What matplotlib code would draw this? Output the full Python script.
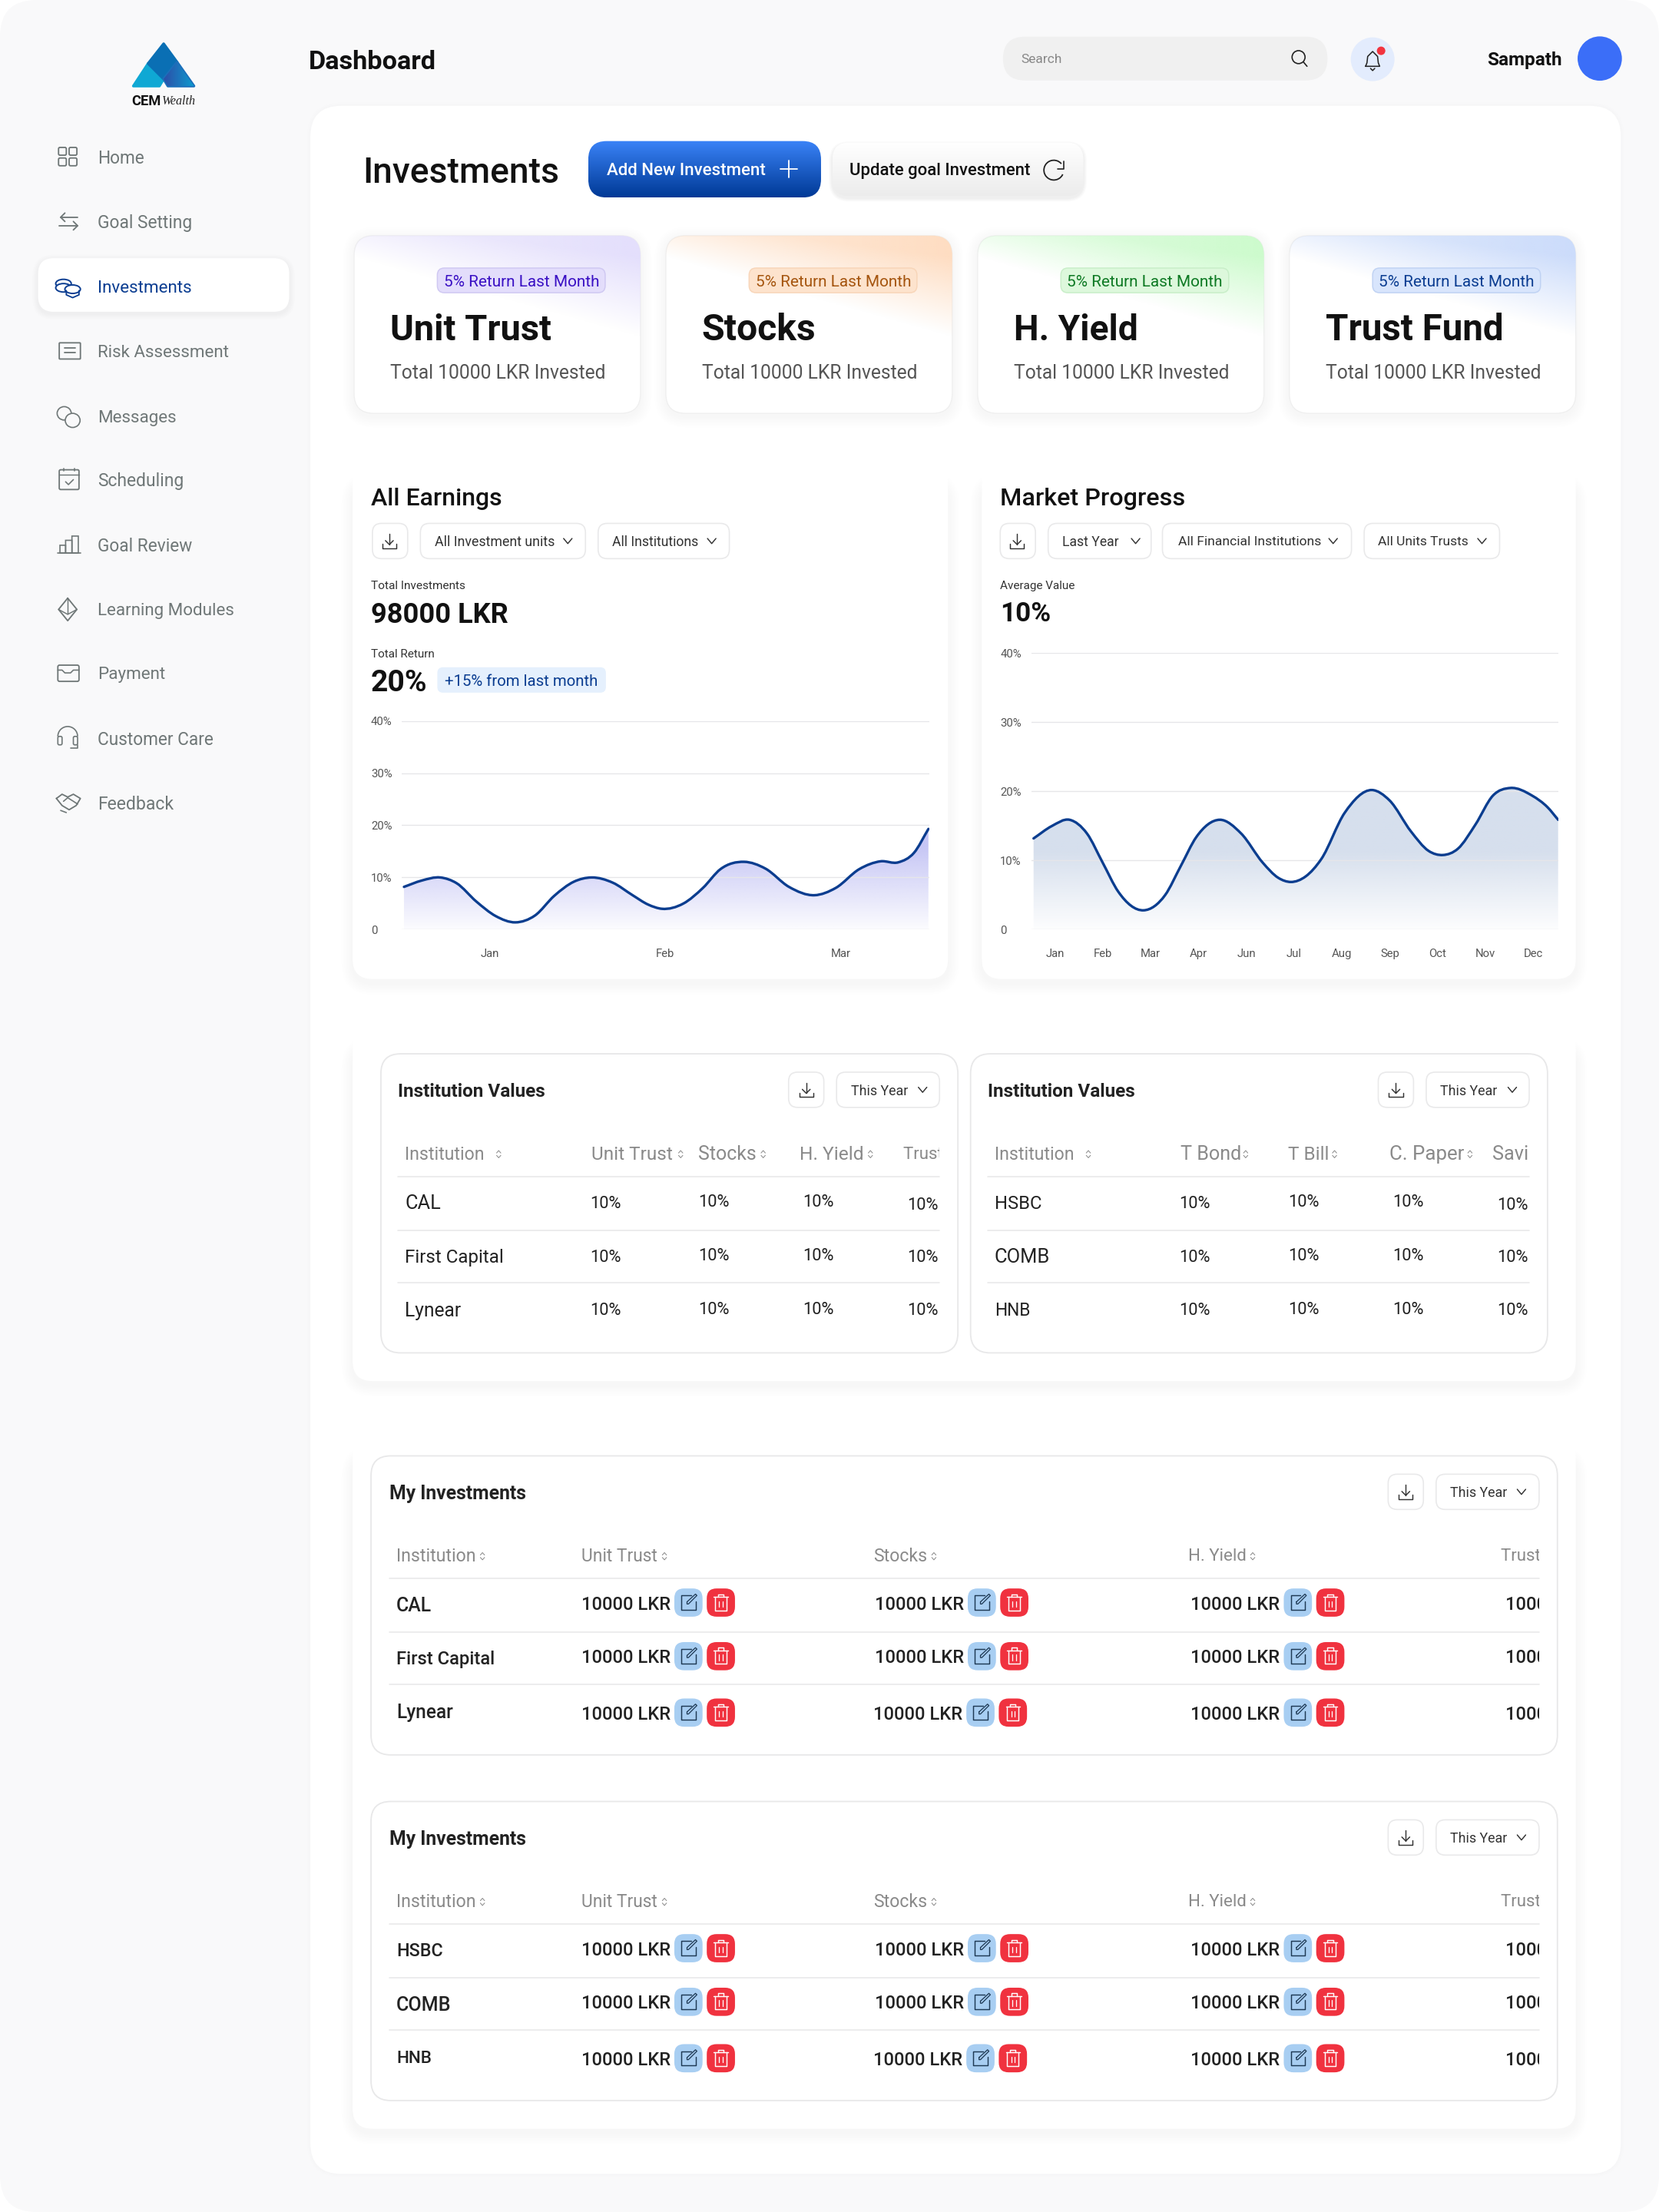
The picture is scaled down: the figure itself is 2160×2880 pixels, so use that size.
import itertools
import numpy as np
import matplotlib
matplotlib.use("Agg")
import matplotlib.pyplot as plt
from matplotlib.patches import FancyBboxPatch, PathPatch, Polygon, Circle, Ellipse, Arc, Rectangle
from matplotlib.path import Path
from matplotlib.transforms import Bbox, TransformedBbox
from matplotlib.colors import to_rgb

# ---------- data ----------
nav_items = ["Home", "Goal Setting", "Investments", "Risk Assessment", "Messages", "Scheduling",
             "Goal Review", "Learning Modules", "Payment", "Customer Care", "Feedback"]
card_titles = ["Unit Trust", "Stocks", "H. Yield", "Trust Fund"]
earn_labels = ["Jan", "Feb", "Mar"]
earn_x = [-0.49, -0.39, -0.283, -0.19, -0.078, 0.033, 0.145, 0.256, 0.367, 0.479, 0.579, 0.70, 0.813, 0.902,
          0.98, 1.102, 1.214, 1.314, 1.448, 1.57, 1.704, 1.849, 1.971, 2.105, 2.227, 2.327, 2.416, 2.499]
earn_y = [8.2, 9.4, 10.0, 8.9, 5.4, 2.6, 1.4, 2.7, 6.5, 9.2, 10.0, 9.0, 6.6, 4.8,
          4.0, 5.0, 8.0, 11.6, 13.0, 11.7, 8.2, 6.6, 8.0, 11.6, 13.1, 12.9, 14.7, 19.3]
market_labels = ["Jan", "Feb", "Mar", "Apr", "Jun", "Jul", "Aug", "Sep", "Oct", "Nov", "Dec"]
market_x = [-0.449, -0.065, 0.302, 0.669, 0.996, 1.322, 1.853, 2.302, 2.629, 2.955, 3.445, 3.894, 4.343, 4.669,
            4.931, 5.241, 5.567, 6.057, 6.629, 6.996, 7.445, 7.812, 8.114, 8.424, 8.792, 9.159, 9.527, 9.976,
            10.302, 10.522]
market_y = [13.2, 15.0, 15.9, 13.9, 9.7, 5.5, 2.8, 5.0, 9.2, 13.4, 15.9, 13.9, 9.7, 7.5,
            6.9, 7.7, 10.2, 16.9, 20.2, 18.7, 14.2, 11.4, 10.8, 11.7, 15.2, 19.4, 20.5, 19.4, 17.7, 15.9]
y_ticks = [0, 10, 20, 30, 40]
y_tick_labels = ["0", "10%", "20%", "30%", "40%"]
inst_left = ["CAL", "First Capital", "Lynear"]
inst_right = ["HSBC", "COMB", "HNB"]
cols_left = ["Unit Trust", "Stocks", "H. Yield", "Trust Fund"]
cols_right = ["T Bond", "T Bill", "C. Paper", "Savings"]
pct_value = "10%"
lkr_value = "10000 LKR"

# ---------- canvas ----------
S = 2160 / 1176
FONT = ["Roboto", "DejaVu Sans"]
fig = plt.figure(figsize=(21.6, 28.8), dpi=100, facecolor="white")
ax = fig.add_axes([0, 0, 1, 1])
ax.set_xlim(0, 1176); ax.set_ylim(1568, 0); ax.axis("off"); ax.set_autoscale_on(False)
rend = fig.canvas.get_renderer()
plt.rcParams["font.family"] = FONT
Z = itertools.count(1)
PX = S * 0.72


def T(x, y, s, w=None, px=11, c="#111111", fw="normal", ha="left", fam=None, style="normal", clip=None):
    t = ax.text(x, y, s, fontsize=px * PX, color=c, fontweight=fw, ha=ha, va="center_baseline", zorder=next(Z),
                family=fam or FONT, style=style)
    if w is not None:
        t.set_fontsize(10)
        cur = t.get_window_extent(rend).width
        t.set_fontsize(10 * w * S / cur)
    if clip is not None:
        bb = Bbox([[clip[0], clip[1]], [clip[2], clip[3]]])
        t.set_clip_box(TransformedBbox(bb, ax.transData))
        t.set_clip_on(True)
    return t


def box(x0, y0, x1, y1, r, fc="white", ec="none", lw=0.0, alpha=None):
    p = FancyBboxPatch((x0, y0), x1 - x0, y1 - y0, boxstyle=f"round,pad=0,rounding_size={r}",
                       fc=fc, ec=ec, lw=lw * 1.32, alpha=alpha, zorder=next(Z))
    ax.add_patch(p)
    return p


def shadow(x0, y0, x1, y1, r, dy=2, n=8, step=1.0, a=0.012):
    for i in range(n, 0, -1):
        e = i * step
        box(x0 - e, y0 - e + dy, x1 + e, y1 + e + dy, r + e, fc="black", alpha=a)


def L(xs, ys, c="#6F7777", lw=1.0):
    ax.plot(xs, ys, color=c, lw=lw * 1.32, solid_capstyle="round", solid_joinstyle="round", zorder=next(Z))


def grad(x0, y0, x1, y1, arr, clip_patch):
    im = ax.imshow(arr, extent=(x0, x1, y1, y0), aspect="auto", interpolation="bilinear", zorder=next(Z))
    im.set_clip_path(clip_patch)
    return im


def vgrad(c0, c1, n=64):
    a, b = np.array(to_rgb(c0)), np.array(to_rgb(c1))
    t = np.linspace(0, 1, n)[:, None, None]
    return a[None, None, :] * (1 - t) + b[None, None, :] * t


def chevron(cx, cy, s=3.0, c="#333333"):
    L([cx - s, cx, cx + s], [cy - s * 0.6, cy + s * 0.6, cy - s * 0.6], c, 0.8)


def download(cx, cy, c="#333333"):
    L([cx, cx], [cy - 5, cy + 2.5], c, 0.8)
    L([cx - 2.8, cx, cx + 2.8], [cy - 0.3, cy + 2.5, cy - 0.3], c, 0.8)
    L([cx - 5, cx - 5, cx + 5, cx + 5], [cy + 2, cy + 5, cy + 5, cy + 2], c, 0.8)


def sort_icon(x, y):
    L([x - 1.5, x, x + 1.5], [y - 0.7, y - 2.4, y - 0.7], "#8A8A8A", 0.55)
    L([x - 1.5, x, x + 1.5], [y + 1.0, y + 2.7, y + 1.0], "#8A8A8A", 0.55)


def dropdown(x0, x1, y0, y1, label, tx0, tx1, chev):
    box(x0, y0, x1, y1, 6.5, ec="#E9E9EA", lw=0.9)
    T(tx0, (y0 + y1) / 2, label, w=tx1 - tx0, c="#333333")
    chevron(chev, (y0 + y1) / 2)


# ---------- page ----------
box(0, 0, 1176, 1568, 26, fc="#F9F9FA")
shadow(220, 75, 1149, 1541, 22, dy=0, n=3, step=0.8, a=0.005)
box(220, 75, 1149, 1541, 22, fc="white")

# logo
tri = Polygon([(105, 45), (94.5, 61), (113, 61), (116, 56)], closed=True, fc="#0FA8D4", ec="#0FA8D4", lw=2.5,
              joinstyle="round", zorder=next(Z)); ax.add_patch(tri)
top = Polygon([(116, 31), (105, 45), (116, 56), (125.5, 44)], closed=True, fc="#0A6FB4", ec="#0A6FB4", lw=2.5,
              joinstyle="round", zorder=next(Z)); ax.add_patch(top)
right = Polygon([(125.5, 44), (116, 56), (119, 61), (137.5, 61)], closed=True, fc="none", ec="none", zorder=next(Z))
ax.add_patch(right)
right_edge = Polygon([(125.5, 44), (116, 56), (119, 61), (137.5, 61)], closed=True, fc="#1B6FBB", ec="#1B6FBB", lw=2.5,
                     joinstyle="round", zorder=next(Z)); ax.add_patch(right_edge)
arr = np.linspace(0, 1, 64)[None, :, None]
grad(116, 42, 139, 63, np.array(to_rgb("#2C4FA8"))[None, None, :] * (1 - arr) + np.array(to_rgb("#0BA0D2"))[None, None, :] * arr, right)
T(93, 71, "CEM", w=21, fw="bold", c="#111111")
T(115, 71, "Wealth", w=24, fam=["Liberation Serif"], style="italic", c="#222222")

# header
T(219, 42, "Dashboard", w=91, fw="bold")
box(711, 26, 941, 57, 15.5, fc="#F0F0F0")
T(724, 41.5, "Search", w=29, c="#888888")
ax.add_patch(Circle((920.5, 40.5), 4.6, fc="none", ec="#222222", lw=1.2, zorder=next(Z)))
L([924, 926.5], [44, 47], "#222222", 0.9)
ax.add_patch(Circle((973, 42), 15.5, fc="#E3ECFD", ec="none", zorder=next(Z)))
L([968, 969, 969.5, 973, 976.5, 977, 978, 968], [47, 44.5, 40, 36.5, 40, 44.5, 47, 47], "#222222", 0.85)
L([971.5, 973, 974.5], [48.5, 50, 48.5], "#222222", 0.85)
ax.add_patch(Circle((979, 36), 3, fc="#F2343F", ec="none", zorder=next(Z)))
T(1054, 41.5, "Sampath", w=53, fw="bold")
ax.add_patch(Circle((1134, 41.5), 15.7, fc="#3B6EF8", ec="none", zorder=next(Z)))

# sidebar
nav_y = [111, 157, 203, 249, 295, 340, 386, 432, 477, 523, 569]
nav_w = [33, 67, 67, 94, 56, 61, 67, 97, 48, 82, 54]
shadow(27, 183, 205, 221, 11, dy=1.5, n=5, step=0.8, a=0.007)
box(27, 183, 205, 221, 11, fc="white")
for name, y, w in zip(nav_items, nav_y, nav_w):
    active = name == "Investments"
    T(69, y, name, w=w, c="#0B3D91" if active else "#707878")
G = "#6F7777"
B = "#0B3D91"
for dx, dy in [(-6.5, -6.5), (1, -6.5), (-6.5, 1), (1, 1)]:
    box(48 + dx, 111 + dy, 48 + dx + 5.5, 111 + dy + 5.5, 1, fc="none", ec=G, lw=1)
L([43, 55], [154, 154], G, 1)
L([46, 43, 46], [151, 154, 157], G, 1); L([42, 55], [160, 160], G, 1); L([52, 55, 52], [157, 160, 163], G, 1)
for ex, ey in [(45, 201), (45, 204), (51.5, 205)]:
    ax.add_patch(Ellipse((ex, ey), 11, 6, fc="white", ec=B, lw=1.4, zorder=next(Z)))
L([47, 47, 51.5, 56, 56], [206, 209, 211, 209, 206], B, 1)
box(42, 243, 57, 254.5, 0.5, fc="none", ec=G, lw=1)
L([45.5, 53.5], [246.8, 246.8], G, 1); L([45.5, 53.5], [250, 250], G, 1)
ax.add_patch(Ellipse((45.5, 293), 10, 9.5, fc="none", ec=G, lw=1.2, zorder=next(Z)))
ax.add_patch(Ellipse((51.5, 298), 10.5, 10, fc="#F9F9FA", ec=G, lw=1.2, zorder=next(Z)))
L([50, 50.2], [298, 298], G, 1.1); L([53.2, 53.4], [298, 298], G, 1.1)
box(42, 333, 56, 347, 1, fc="none", ec=G, lw=1)
L([42, 56], [336.5, 336.5], G, 0.8); L([45, 45], [332, 334], G, 0.9); L([53, 53], [332, 334], G, 0.9)
L([46.5, 48.5, 52], [341.5, 343.5, 340], G, 0.9)
L([41, 57], [392, 392], G, 0.9)
box(42.5, 386.5, 46.5, 392, 0, fc="none", ec=G, lw=0.9)
box(46.5, 383, 51, 392, 0, fc="none", ec=G, lw=0.9)
box(51, 380, 55.5, 392, 0, fc="none", ec=G, lw=0.9)
L([48, 41.5, 48, 54.5, 48], [424, 432, 440, 432, 424], G, 1)
L([48, 48], [424, 435], G, 0.8); L([41.5, 48, 54.5], [432, 435.5, 432], G, 0.8)
box(41, 471.5, 56, 483, 1.2, fc="none", ec=G, lw=1)
L([41, 44, 46, 50, 52, 56], [475, 475, 477, 477, 475, 475], G, 0.9)
ax.add_patch(Arc((48, 522), 14, 14, theta1=180, theta2=360, ec=G, lw=1.2, zorder=next(Z)))
box(41, 522, 44, 528, 1, fc="none", ec=G, lw=0.9)
box(52, 522, 55, 528, 1, fc="none", ec=G, lw=0.9)
L([55, 55, 50], [528, 530.5, 530.5], G, 0.9)
L([40, 44, 48, 52, 57, 54, 49, 44, 40], [566, 563, 565, 563, 566, 571, 574, 571, 566], G, 1)
L([45, 48, 52, 55], [568, 565.5, 568, 570], G, 0.9)
L([43, 47], [574.5, 576], G, 0.9)

# title row
T(257, 120, "Investments", w=139, fw="medium")
p = box(417, 100, 582, 140, 13, fc="none")
grad(417, 100, 582, 140, vgrad("#3A82F7", "#003A96"), p)
T(430, 120, "Add New Investment", w=112, fw="medium", c="white")
L([553, 565], [120, 120], "white", 1); L([559, 559], [114, 126], "white", 1)
shadow(590, 101, 768, 139, 12, dy=1.5, n=4, step=0.6, a=0.014)
p = box(590, 101, 768, 139, 12, fc="none")
grad(590, 101, 768, 139, vgrad("#FFFFFF", "#ECECEC"), p)
T(602, 120, "Update goal Investment", w=128, fw="medium")
ax.add_patch(Arc((747, 120.6), 14, 14, theta1=25, theta2=320, ec="#222222", lw=1.3, zorder=next(Z)))
L([749.5, 754, 754], [119.8, 119.8, 114.5], "#222222", 0.9)

# summary cards
card_x = [251, 472, 693, 914]
card_tint = ["#E4DFFC", "#FEDDC2", "#CDFBCD", "#CCDCFB"]
badge_fc = ["#E3DDFB", "#FDE3CD", "#DDF8DC", "#D8E5FC"]
badge_ec = ["#CFC8F2", "#F8D5B8", "#C8EEC8", "#BFD2F3"]
badge_tc = ["#3A10C4", "#A5550F", "#0E7A24", "#0B3D91"]
title_w = [114, 81, 88, 126]
for cx, tint, bfc, bec, btc, ttl, tw in zip(card_x, card_tint, badge_fc, badge_ec, badge_tc, card_titles, title_w):
    shadow(cx, 167, cx + 203, 293, 14, dy=2, n=8, step=1.0, a=0.0035)
    p = box(cx, 167, cx + 203, 293, 14, fc="white", ec="#EFEFEF", lw=0.7)
    uu, vv = np.meshgrid(np.linspace(0, 1, 128), np.linspace(0, 1, 128))
    alpha = np.clip((0.12 + 0.45 * uu - vv) / (0.2 + 0.25 * uu), 0, 1) * (0.55 + 0.45 * uu)
    rgba = np.dstack([np.ones_like(uu) * v for v in to_rgb(tint)] + [alpha])
    grad(cx, 167, cx + 203, 293, rgba, p)
    box(cx + 59, 190, cx + 178, 207.5, 5, fc=bfc, ec=bec, lw=0.8)
    T(cx + 63.5, 199, "5% Return Last Month", w=110, c=btc)
    T(cx + 25.5, 231.5, ttl, w=tw, fw="bold")
    T(cx + 25.5, 263.5, "Total 10000 LKR Invested", w=152, c="#555555")

# chart panels
for x0, x1 in [(250, 672), (696, 1117)]:
    shadow(x0, 340, x1, 694, 14, dy=3, n=8, step=1.0, a=0.0028)
    box(x0, 326, x1, 694, 14, fc="white")
T(263, 352, "All Earnings", w=93, fw="medium")
box(264, 371, 289, 396, 6.5, ec="#E9E9EA", lw=0.9); download(276, 383.5)
dropdown(298, 415, 371, 396, "All Investment units", 308, 393, 402.5)
dropdown(424, 517, 371, 396, "All Institutions", 434, 495, 504.5)
T(263, 414.5, "Total Investments", w=67, c="#333333")
T(263, 434, "98000 LKR", w=97, fw="bold")
T(263, 463, "Total Return", w=45, c="#333333")
T(263, 482, "20%", w=40, fw="bold")
box(310, 473, 429.5, 491, 4, fc="#E5F0FD")
T(315, 482, "+15% from last month", w=109, c="#0B3D91")

T(709, 352, "Market Progress", w=131, fw="medium")
box(709, 371, 734, 396, 6.5, ec="#E9E9EA", lw=0.9); download(721, 383.5)
dropdown(743, 816, 371, 396, "Last Year", 753, 793, 805)
dropdown(824, 958, 371, 396, "All Financial Institutions", 835, 936, 945)
dropdown(967, 1063, 371, 396, "All Units Trusts", 977, 1041, 1050.5)
T(709, 414.5, "Average Value", w=53, c="#333333")
T(709, 433.5, "10%", w=36, fw="bold")


def smooth_path(xs, ys):
    xs, ys = np.asarray(xs, float), np.asarray(ys, float)
    m = np.gradient(ys, xs)
    verts, codes = [(xs[0], ys[0])], [Path.MOVETO]
    for i in range(len(xs) - 1):
        d = (xs[i + 1] - xs[i]) / 3
        verts += [(xs[i] + d, ys[i] + m[i] * d), (xs[i + 1] - d, ys[i + 1] - m[i + 1] * d), (xs[i + 1], ys[i + 1])]
        codes += [Path.CURVE4] * 3
    return verts, codes


def chart(box_px, xlim, xs, ys, xlabels, fill_rgb, fade):
    x0, x1, y0, y1 = box_px
    a = fig.add_axes([x0 / 1176, 1 - y1 / 1568, (x1 - x0) / 1176, (y1 - y0) / 1568], facecolor="none")
    a.set_xlim(*xlim); a.set_ylim(0, 40)
    verts, codes = smooth_path(xs, ys)
    fv = verts + [(xs[-1], 0), (xs[0], 0), (xs[0], ys[0])]
    fc = codes + [Path.LINETO, Path.LINETO, Path.LINETO]
    clip = PathPatch(Path(fv, fc), fc="none", ec="none", transform=a.transData)
    a.add_patch(clip)
    yy = np.linspace(40, 0, 256)
    al = np.clip(0.06 + yy / fade, 0, 1)
    rgba = np.dstack([np.ones((256, 2)) * (c / 255) for c in fill_rgb] + [np.repeat(al[:, None], 2, axis=1)])
    im = a.imshow(rgba, extent=(xlim[0], xlim[1], 0, 40), aspect="auto", zorder=0)
    im.set_clip_path(clip)
    a.set_xlim(*xlim); a.set_ylim(0, 40)
    a.plot(xs, ys, alpha=0)
    a.add_patch(PathPatch(Path(verts, codes), fc="none", ec="#0B3D8F", lw=2.4, zorder=3, capstyle="round"))
    a.set_yticks(y_ticks); a.set_yticklabels(y_tick_labels, ha="left", fontsize=8.8 * PX * 0.92, color="#555555")
    a.set_xticks(range(len(xlabels))); a.set_xticklabels(xlabels, fontsize=8.8 * PX * 0.92, color="#555555")
    a.tick_params(axis="y", length=0, pad=(x0 - (263 if x0 < 500 else 709)) * PX)
    a.tick_params(axis="x", length=0, pad=13.5 * PX)
    a.set_axisbelow("line")
    a.yaxis.grid(True, color="#E6E6E9", lw=1.0); a.xaxis.grid(False)
    for s in a.spines.values():
        s.set_visible(False)
    return a


chart((285, 659, 511, 659), (-0.501, 2.506), earn_x, earn_y, earn_labels, (198, 198, 245), 17)
chart((731, 1104.5, 463, 659), (-0.498, 10.522), market_x, market_y, market_labels, (214, 223, 237), 12)

# institution values
shadow(250, 740, 1117, 979, 14, dy=3, n=8, step=1.0, a=0.0028)
box(250, 726, 1117, 979, 14, fc="white")
col_x0 = [419, 495, 567, 640]
col_w = [58, 41, 45, 58]
val_x = [418, 495, 569, 643]
val_y = [[852, 890, 928], [851, 889, 927], [851, 889, 927], [853, 890, 928]]
name_w = {"CAL": 25, "First Capital": 70, "Lynear": 40, "HSBC": 33, "COMB": 39, "HNB": 25}
for off, names, cols in [(0, inst_left, cols_left), (418, inst_right, cols_right)]:
    box(270 + off, 747, 679 + off, 959, 14, ec="#E8E8E9", lw=1)
    T(282 + off, 772.5, "Institution Values", w=105, fw="bold", c="#222222")
    box(559 + off, 760, 584 + off, 785, 6.5, ec="#E9E9EA", lw=0.9); download(571.5 + off, 772.5)
    dropdown(593 + off, 666 + off, 760, 785, "This Year", 603 + off, 643.5 + off, 654 + off)
    clip_box = (270 + off, 790, 666 + off, 840)
    T(287 + off, 817, "Institution", w=56, c="#8A8A8A", clip=clip_box); sort_icon(353.5 + off, 818)
    hdr_w = {"T Bond": 43, "T Bill": 29, "C. Paper": 53, "Savings": 48}
    hdr_sort = [482.5, 541, 617]
    for j, (cx0, cw, nm) in enumerate(zip(col_x0, col_w, cols)):
        T(cx0 + off, 817, nm, w=hdr_w.get(nm, cw), c="#8A8A8A", clip=clip_box)
        if j < 3:
            sort_icon((hdr_sort[j] if off == 0 else [cx0 + off + 46, cx0 + off + 33, cx0 + off + 57][j]), 818)
    for ly in [834, 872, 909]:
        L([282 + off, 666 + off], [ly, ly], "#E9E9EA", 0.9)
    for nm, ny in zip(names, [852, 890, 928]):
        T(287 + off, ny, nm, w=name_w[nm], c="#222222")
    for vx, vys in zip(val_x, val_y):
        for vy in vys:
            T(vx + off, vy, pct_value, w=22, c="#222222")


def edit_btn(cx, cy):
    box(cx - 10, cy - 10, cx + 10, cy + 10, 7, fc="#A8CEF2")
    L([cx + 2, cx - 5, cx - 5, cx + 5, cx + 5], [cy - 5, cy - 5, cy + 5, cy + 5, cy - 1], "#1F3A55", 0.8)
    L([cx - 1, cx + 5, cx + 6, cx, cx - 1, cx - 1], [cy - 0.5, cy - 6, cy - 5, cy + 1, cy + 1, cy - 0.5], "#1F3A55", 0.7)


def del_btn(cx, cy):
    box(cx - 10, cy - 10, cx + 10, cy + 10, 7, fc="#F0323F")
    L([cx - 5, cx + 5], [cy - 4, cy - 4], "white", 0.8)
    L([cx - 2, cx - 2, cx + 2, cx + 2], [cy - 4, cy - 6, cy - 6, cy - 4], "white", 0.8)
    L([cx - 4, cx - 4, cx + 4, cx + 4], [cy - 4, cy + 5.5, cy + 5.5, cy - 4], "white", 0.8)
    L([cx - 1.2, cx - 1.2], [cy - 1, cy + 3], "white", 0.7); L([cx + 1.2, cx + 1.2], [cy - 1, cy + 3], "white", 0.7)


# my investments
shadow(250, 1030, 1117, 1509, 14, dy=3, n=8, step=1.0, a=0.0028)
box(250, 1016, 1117, 1509, 14, fc="white")
my_col_x = [412, 620, 844, 1067]
my_hdr_x = [412, 619, 842]
my_hdr_w = [54, 38, 41]
my_hdr_sort = [471, 662, 888]
for off, names in [(0, inst_left), (245, inst_right)]:
    box(263, 1032 + off, 1104, 1244 + off, 14, ec="#E8E8E9", lw=1)
    T(276, 1057.5 + off, "My Investments", w=97, fw="bold", c="#222222")
    box(984, 1045 + off, 1009, 1070 + off, 6.5, ec="#E9E9EA", lw=0.9); download(996.5, 1057.5 + off)
    dropdown(1018, 1091, 1045 + off, 1070 + off, "This Year", 1028, 1068.5, 1078.5)
    T(281, 1102 + off, "Institution", w=56, c="#8A8A8A"); sort_icon(342, 1103 + off)
    for hx, hw, hs, nm in zip(my_hdr_x, my_hdr_w, my_hdr_sort, cols_left):
        T(hx, 1102 + off, nm, w=hw, c="#8A8A8A"); sort_icon(hs, 1103 + off)
    T(1064, 1102 + off, "Trust Fund", w=58, c="#8A8A8A", clip=(1000, 1085 + off, 1091, 1115 + off))
    for ly in [1119, 1157, 1194]:
        L([276, 1091], [ly + off, ly + off], "#E9E9EA", 0.9)
    for nm, ny in zip(names, [1137, 1175, 1213]):
        T(281, ny + off, nm, w=name_w[nm], c="#222222", fw="medium")
    for ri, vy in enumerate([1136, 1174, 1214]):
        for ci, vx in enumerate(my_col_x):
            shift = -1 if (ci == 1 and ri == 2) else 0
            T(vx + shift, vy + off, lkr_value, w=63, c="#222222", fw="medium",
              clip=(400, 1100 + off, 1091, 1240 + off))
            if ci < 3:
                edit_btn(vx + 76 + shift, vy + off)
                del_btn(vx + 99 + shift, vy + off)

ax.set_xlim(0, 1176); ax.set_ylim(1568, 0)
fig.savefig("out.png", dpi=100, facecolor="white")
